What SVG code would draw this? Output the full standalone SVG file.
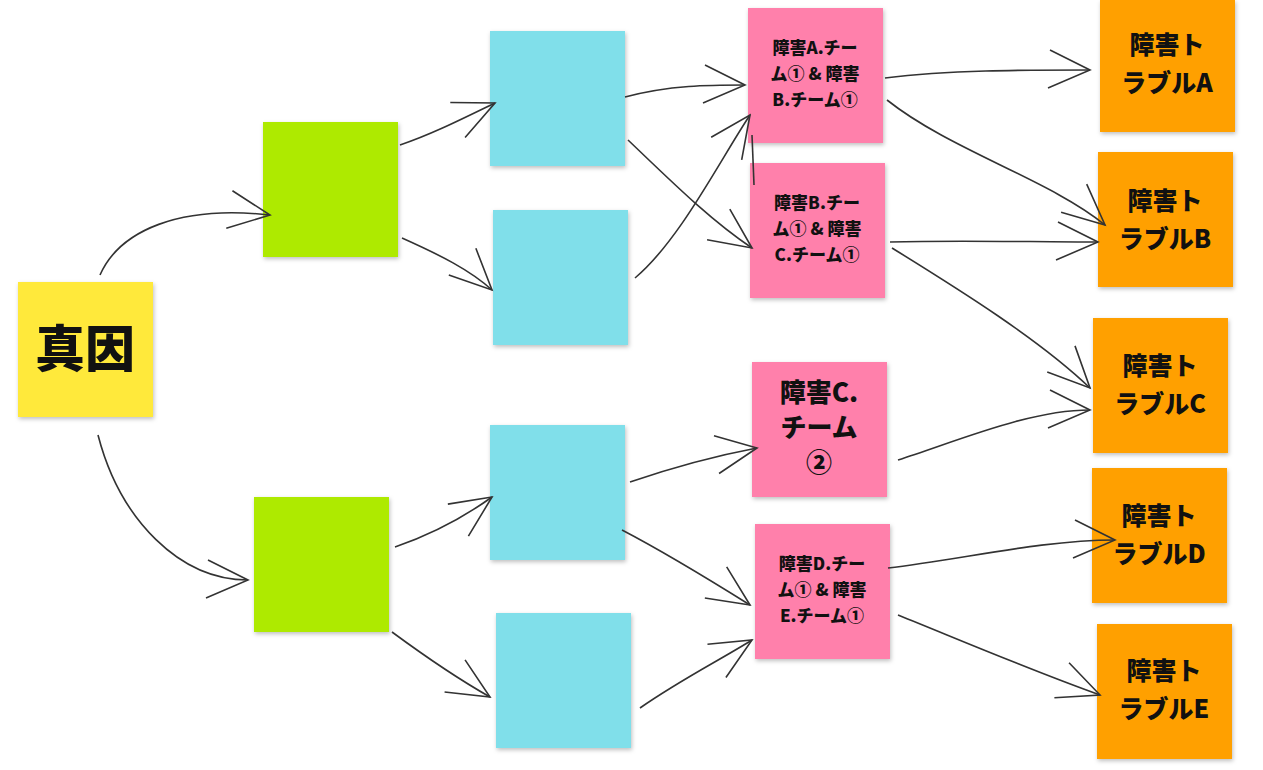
<svg xmlns="http://www.w3.org/2000/svg" width="1263" height="770" viewBox="0 0 1263 770">
<defs>
<marker id="ar" markerUnits="userSpaceOnUse" markerWidth="90" markerHeight="90" viewBox="-45 -45 90 90" refX="0" refY="0" orient="auto">
<path d="M-40,-20 L0,0 L-42,18" fill="none" stroke="#333" stroke-width="1.6"/>
</marker>
<style>
.n{stroke:none;filter:drop-shadow(1px 2px 2px rgba(0,0,0,0.25))}
.y{fill:#FFE93B}.g{fill:#AEEA00}.c{fill:#80DFEA}.p{fill:#FF80AB}.o{fill:#FFA000}
text{font-family:"Noto Sans CJK JP","Liberation Sans",sans-serif;font-weight:900;fill:#111;text-anchor:middle}
.s{font-size:17px}.m{font-size:25px}
.e path{fill:none;stroke:#333;stroke-width:1.6;marker-end:url(#ar)}
.e path.nm{marker-end:none}
</style>
</defs>
<rect width="1263" height="770" fill="#fff"/>
<g id="n0"><rect class="n y" x="18" y="282" width="135" height="135"/><text x="85" y="367" font-size="50">真因</text></g>
<g id="g1"><rect class="n g" x="263" y="122" width="135" height="135"/></g>
<g id="g2"><rect class="n g" x="254" y="497" width="135" height="135"/></g>
<g id="c1"><rect class="n c" x="490" y="31" width="135" height="135"/></g>
<g id="c2"><rect class="n c" x="493" y="210" width="135" height="135"/></g>
<g id="c3"><rect class="n c" x="490" y="425" width="135" height="135"/></g>
<g id="c4"><rect class="n c" x="496" y="613" width="135" height="135"/></g>
<g id="p1"><rect class="n p" x="748" y="8" width="135" height="135"/><text class="s" x="815" y="54">障害A.チー</text><text class="s" x="815" y="80">ム① &amp; 障害</text><text class="s" x="815" y="106">B.チーム①</text></g>
<g id="p2"><rect class="n p" x="750" y="163" width="135" height="135"/><text class="s" x="817" y="209">障害B.チー</text><text class="s" x="817" y="235">ム① &amp; 障害</text><text class="s" x="817" y="261">C.チーム①</text></g>
<g id="p3"><rect class="n p" x="752" y="362" width="135" height="135"/><text x="819" y="402" font-size="26">障害C.</text><text x="819" y="437" font-size="26">チーム</text><text x="819" y="472" font-size="26">②</text></g>
<g id="p4"><rect class="n p" x="755" y="524" width="135" height="135"/><text class="s" x="822" y="570">障害D.チー</text><text class="s" x="822" y="596">ム① &amp; 障害</text><text class="s" x="822" y="622">E.チーム①</text></g>
<g id="oA"><rect class="n o" x="1100" y="0" width="135" height="132"/><text class="m" x="1167" y="54">障害ト</text><text class="m" x="1167" y="92">ラブルA</text></g>
<g id="oB"><rect class="n o" x="1098" y="152" width="135" height="135"/><text class="m" x="1165" y="210">障害ト</text><text class="m" x="1165" y="248">ラブルB</text></g>
<g id="oC"><rect class="n o" x="1093" y="318" width="135" height="135"/><text class="m" x="1160" y="375">障害ト</text><text class="m" x="1160" y="413">ラブルC</text></g>
<g id="oD"><rect class="n o" x="1092" y="468" width="135" height="135"/><text class="m" x="1159" y="525">障害ト</text><text class="m" x="1159" y="563">ラブルD</text></g>
<g id="oE"><rect class="n o" x="1097" y="624" width="135" height="135"/><text class="m" x="1164" y="680">障害ト</text><text class="m" x="1164" y="718">ラブルE</text></g>
<g id="edges" class="e">
<path d="M100,275 C120,230 180,205 270,215"/>
<path d="M98,435 C120,520 180,580 248,580"/>
<path d="M400,145 C430,135 460,120 495,103"/>
<path d="M402,238 C440,255 470,270 492,290"/>
<path d="M395,547 C430,535 460,520 492,497"/>
<path d="M392,632 C430,660 460,680 490,697"/>
<path d="M625,97 C670,85 710,85 745,85"/>
<path d="M628,140 C670,180 710,220 752,248"/>
<path d="M635,278 C680,240 720,160 750,115"/>
<path class="nm" d="M752,135 L754,185"/>
<path d="M630,482 C680,465 720,455 757,448"/>
<path d="M622,530 C670,555 710,580 750,605"/>
<path d="M640,708 C680,680 720,660 752,640"/>
<path d="M885,78 C950,70 1020,70 1090,70"/>
<path d="M887,100 C950,150 1050,180 1105,225"/>
<path d="M890,242 C960,240 1030,242 1098,242"/>
<path d="M892,248 C960,290 1040,340 1090,388"/>
<path d="M898,460 C960,440 1030,410 1090,410"/>
<path d="M888,568 C960,560 1040,540 1115,540"/>
<path d="M898,615 C960,640 1030,670 1100,695"/>
</g>
</svg>
